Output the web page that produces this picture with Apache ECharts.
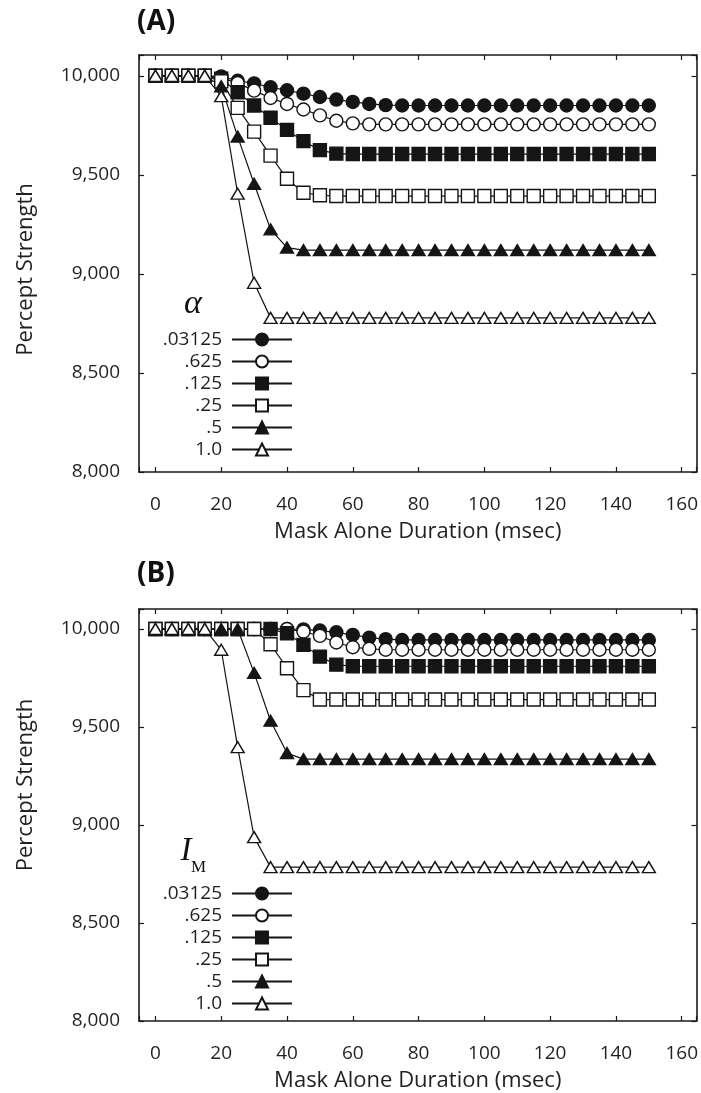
<!DOCTYPE html>
<html><head><meta charset="utf-8">
<script src="https://cdn.jsdelivr.net/npm/echarts@6/dist/echarts.min.js"></script>
<style>html,body{margin:0;padding:0;background:#fff}#c{width:701px;height:1093px}</style>
</head><body><div id="c"></div>
<script>
// ---- data ----
const xValues = [0,5,10,15,20,25,30,35,40,45,50,55,60,65,70,75,80,85,90,95,100,105,110,115,120,125,130,135,140,145,150];
const seriesNames = ['.03125', '.625', '.125', '.25', '.5', '1.0'];
const panelTitles = ['(A)', '(B)'];
const xAxisTitle = 'Mask Alone Duration (msec)';
const yAxisTitle = 'Percept Strength';

// Panel A (alpha)
const a_03125 = [10000,10000,10000,10000,9997,9975,9962,9942,9927,9910,9893,9880,9868,9858,9852,9850,9850,9850,9850,9850,9850,9850,9850,9850,9850,9850,9850,9850,9850,9850,9850];
const a_0625  = [10000,10000,10000,10000,9990,9963,9925,9888,9858,9830,9800,9773,9760,9755,9755,9755,9755,9755,9755,9755,9755,9755,9755,9755,9755,9755,9755,9755,9755,9755,9755];
const a_125   = [10000,10000,10000,10000,9985,9917,9850,9788,9727,9670,9625,9607,9605,9605,9605,9605,9605,9605,9605,9605,9605,9605,9605,9605,9605,9605,9605,9605,9605,9605,9605];
const a_25    = [10000,10000,10000,10000,9972,9838,9718,9597,9480,9410,9397,9393,9393,9393,9393,9393,9393,9393,9393,9393,9393,9393,9393,9393,9393,9393,9393,9393,9393,9393,9393];
const a_5     = [10000,10000,10000,10000,9947,9693,9455,9225,9133,9120,9120,9120,9120,9120,9120,9120,9120,9120,9120,9120,9120,9120,9120,9120,9120,9120,9120,9120,9120,9120,9120];
const a_10    = [10000,10000,10000,10000,9897,9405,8955,8778,8778,8778,8778,8778,8778,8778,8778,8778,8778,8778,8778,8778,8778,8778,8778,8778,8778,8778,8778,8778,8778,8778,8778];

// Panel B (I_M)
const b_03125 = [10000,10000,10000,10000,10000,10000,10000,10000,10000,9998,9992,9983,9970,9956,9948,9944,9944,9944,9944,9944,9944,9944,9944,9944,9944,9944,9944,9944,9944,9944,9944];
const b_0625  = [10000,10000,10000,10000,10000,10000,10000,10000,10000,9987,9965,9931,9907,9899,9894,9894,9894,9894,9894,9894,9894,9894,9894,9894,9894,9894,9894,9894,9894,9894,9894];
const b_125   = [10000,10000,10000,10000,10000,10000,10000,10000,9978,9919,9859,9818,9810,9810,9810,9810,9810,9810,9810,9810,9810,9810,9810,9810,9810,9810,9810,9810,9810,9810,9810];
const b_25    = [10000,10000,10000,10000,10000,10000,10000,9922,9800,9688,9640,9640,9640,9640,9640,9640,9640,9640,9640,9640,9640,9640,9640,9640,9640,9640,9640,9640,9640,9640,9640];
const b_5     = [10000,10000,10000,10000,10000,10000,9776,9532,9367,9336,9336,9336,9336,9336,9336,9336,9336,9336,9336,9336,9336,9336,9336,9336,9336,9336,9336,9336,9336,9336,9336];
const b_10    = [10000,10000,10000,10000,9894,9397,8938,8785,8785,8785,8785,8785,8785,8785,8785,8785,8785,8785,8785,8785,8785,8785,8785,8785,8785,8785,8785,8785,8785,8785,8785];

const panelA = [a_03125, a_0625, a_125, a_25, a_5, a_10];
const panelB = [b_03125, b_0625, b_125, b_25, b_5, b_10];

// ---- styles ----
const INK = '#151515';
const TXT = '#231f20';
const FONT = '"Open Sans", "Noto Sans", sans-serif';
const markers = [
  {symbol: 'circle',   size: 13, fill: INK},
  {symbol: 'circle',   size: 13, fill: '#fff'},
  {symbol: 'rect',     size: 13, fill: INK},
  {symbol: 'rect',     size: 13, fill: '#fff'},
  {symbol: 'triangle', size: [13, 11], fill: INK},
  {symbol: 'triangle', size: [13, 11], fill: '#fff'}
];

const grids = [
  {left: 139, right: 0, top: 55, height: 417},
  {left: 139, right: 0, top: 609, height: 416}
];

const xMin = -5, xMax = 164.5;
const yMin = 8000, yMaxes = [10105, 10102];
// shift of the rotated y-axis title along the axis (padding trick)
const yNamePadding = [[0, 12, 0, 0], [0, 0, 0, 60]];

const xAxes = [], yAxes = [], series = [];
grids.forEach((g, p) => {
  const lineStyle = {color: '#1a1a1a', width: 1.6};
  const tick = {show: true, inside: true, length: 5, lineStyle: {color: '#1a1a1a', width: 1.2}};
  xAxes.push({
    type: 'value', gridIndex: p, position: 'bottom', min: xMin, max: xMax, splitNumber: 8,
    axisLine: {show: true, onZero: false, lineStyle}, axisTick: tick, splitLine: {show: false},
    axisLabel: {margin: 23, fontSize: 19, fontFamily: FONT, color: TXT,
      formatter: v => (Math.abs(v % 20) < 1e-6 ? String(v) : '')},
    name: xAxisTitle, nameLocation: 'middle', nameGap: 49,
    nameTextStyle: {fontSize: 22, fontFamily: FONT, color: TXT}
  });
  xAxes.push({
    type: 'value', gridIndex: p, position: 'top', min: xMin, max: xMax, splitNumber: 8,
    axisLine: {show: true, onZero: false, lineStyle}, axisTick: tick, splitLine: {show: false},
    axisLabel: {show: false}
  });
  yAxes.push({
    type: 'value', gridIndex: p, position: 'left', min: yMin, max: yMaxes[p], splitNumber: 4,
    axisLine: {show: true, onZero: false, lineStyle}, axisTick: tick, splitLine: {show: false},
    axisLabel: {margin: 19, fontSize: 19, fontFamily: FONT, color: TXT,
      formatter: v => (Math.abs(v % 500) < 1e-6 ? v.toLocaleString('en-US') : '')},
    name: yAxisTitle, nameLocation: 'middle', nameGap: 102,
    nameTextStyle: {fontSize: 22, fontFamily: FONT, color: TXT, padding: yNamePadding[p]}
  });
  yAxes.push({
    type: 'value', gridIndex: p, position: 'right', min: yMin, max: yMaxes[p], splitNumber: 4,
    axisLine: {show: true, onZero: false, lineStyle}, axisTick: tick, splitLine: {show: false},
    axisLabel: {show: false}
  });
  const vals = p === 0 ? panelA : panelB;
  vals.forEach((arr, j) => {
    const m = markers[j];
    series.push({
      type: 'line', name: seriesNames[j], xAxisIndex: p * 2, yAxisIndex: p * 2,
      data: xValues.map((x, i) => [x, arr[i]]),
      symbol: m.symbol, symbolSize: m.size, showSymbol: true,
      lineStyle: {color: INK, width: 1.2},
      itemStyle: {color: m.fill, borderColor: INK, borderWidth: 1.4},
      emphasis: {disabled: true}, animation: false
    });
  });
});

const legendTops = [330, 884];
const legends = legendTops.map(t => ({
  orient: 'vertical', align: 'right', right: 408, top: t, padding: 0,
  itemWidth: 60, itemHeight: 15, itemGap: 3, selectedMode: false,
  data: seriesNames,
  textStyle: {fontSize: 19, lineHeight: 15, fontFamily: FONT, color: TXT, padding: [0, 5, 0, 0]}
}));

const graphics = [
  {type: 'text', left: 137, top: 8, style: {text: panelTitles[0], font: 'bold 28px "Open Sans", sans-serif', fill: '#111'}},
  {type: 'text', left: 137, top: 560, style: {text: panelTitles[1], font: 'bold 28px "Open Sans", sans-serif', fill: '#111'}},
  {type: 'text', x: 193, y: 304, style: {text: 'α', font: 'italic 34px "Liberation Serif", serif', fill: '#111', align: 'center', verticalAlign: 'middle'}},
  {type: 'text', x: 186, y: 851, style: {text: 'I', font: 'italic 33px "Liberation Serif", serif', fill: '#111', align: 'center', verticalAlign: 'middle'}},
  {type: 'text', x: 198.5, y: 868, style: {text: 'M', font: '17px "Liberation Serif", serif', fill: '#111', align: 'center', verticalAlign: 'middle'}}
];

const chart = echarts.init(document.getElementById('c'), null, {renderer: 'canvas'});
chart.setOption({
  animation: false,
  backgroundColor: '#fff',
  grid: grids,
  xAxis: xAxes,
  yAxis: yAxes,
  legend: legends,
  graphic: graphics,
  series: series
});
</script>
</body></html>
